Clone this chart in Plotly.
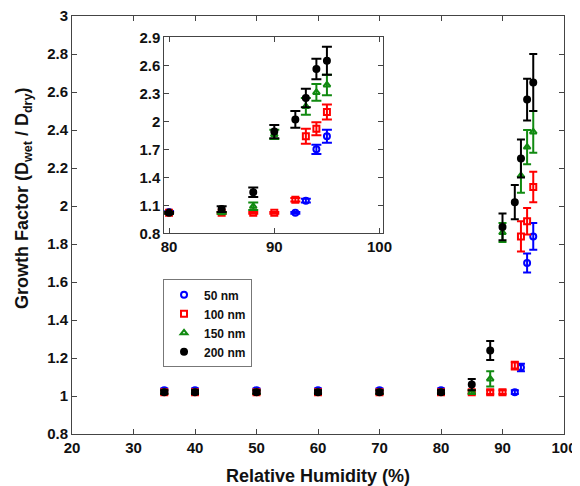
import plotly.graph_objects as go

# ---- data ----
series_names = ["50 nm", "100 nm", "150 nm", "200 nm"]

blue_rh = [35, 40, 50, 60, 70, 80, 92, 93, 94, 95]
blue_gf = [1.03, 1.03, 1.03, 1.03, 1.03, 1.03, 1.02, 1.15, 1.70, 1.84]
blue_err = [0.01, 0.01, 0.01, 0.01, 0.01, 0.01, 0.01, 0.02, 0.05, 0.07]

red_rh = [35, 40, 50, 60, 70, 80, 85, 88, 90, 92, 93, 94, 95]
red_gf = [1.02, 1.02, 1.02, 1.02, 1.02, 1.02, 1.02, 1.02, 1.02, 1.16, 1.84, 1.92, 2.10]
red_err = [0.01, 0.01, 0.01, 0.01, 0.01, 0.01, 0.01, 0.01, 0.01, 0.02, 0.08, 0.07, 0.08]

green_rh = [35, 40, 50, 60, 70, 80, 85, 88, 90, 93, 94, 95]
green_gf = [1.02, 1.02, 1.02, 1.02, 1.02, 1.02, 1.02, 1.09, 1.86, 2.16, 2.31, 2.39]
green_err = [0.01, 0.01, 0.01, 0.01, 0.01, 0.01, 0.01, 0.04, 0.05, 0.09, 0.09, 0.11]

black_rh = [35, 40, 50, 60, 70, 80, 85, 88, 90, 92, 93, 94, 95]
black_gf = [1.02, 1.02, 1.02, 1.02, 1.02, 1.02, 1.06, 1.24, 1.89, 2.02, 2.25, 2.56, 2.65]
black_err = [0.01, 0.01, 0.01, 0.01, 0.01, 0.01, 0.03, 0.05, 0.07, 0.09, 0.10, 0.11, 0.15]

main_xticks = [20, 30, 40, 50, 60, 70, 80, 90, 100]
main_yticks = [0.8, 1.0, 1.2, 1.4, 1.6, 1.8, 2.0, 2.2, 2.4, 2.6, 2.8, 3.0]
main_ytext = ["0.8", "1", "1.2", "1.4", "1.6", "1.8", "2", "2.2", "2.4", "2.6", "2.8", "3"]
inset_xticks = [80, 90, 100]
inset_yticks = [0.8, 1.1, 1.4, 1.7, 2.0, 2.3, 2.6, 2.9]
inset_ytext = ["0.8", "1.1", "1.4", "1.7", "2", "2.3", "2.6", "2.9"]

colors = ["#0000ff", "#ff0000", "#118a11", "#000000"]
symbols = ["circle-open", "square-open", "triangle-up-open", "circle"]
data = [
    (blue_rh, blue_gf, blue_err),
    (red_rh, red_gf, red_err),
    (green_rh, green_gf, green_err),
    (black_rh, black_gf, black_err),
]

FONT = "Liberation Sans, Arial, sans-serif"
fig = go.Figure()

for (rh, gf, err), name, col, sym in zip(data, series_names, colors, symbols):
    fig.add_trace(go.Scatter(
        x=rh, y=gf, mode="markers", name=name,
        marker=dict(symbol=sym, size=6, color=col, line=dict(color=col, width=2)),
        error_y=dict(type="data", array=err, color=col, thickness=2, width=4),
        xaxis="x", yaxis="y", showlegend=True,
    ))

for (rh, gf, err), name, col, sym in zip(data, series_names, colors, symbols):
    fig.add_trace(go.Scatter(
        x=rh, y=gf, mode="markers", name=name,
        marker=dict(symbol=sym, size=6, color=col, line=dict(color=col, width=2)),
        error_y=dict(type="data", array=err, color=col, thickness=2, width=5),
        xaxis="x2", yaxis="y2", showlegend=False,
    ))

axis_common = dict(
    showline=True, linecolor="#444444", linewidth=1, mirror="ticks",
    ticks="inside", ticklen=5, tickcolor="#444444", showgrid=False, zeroline=False,
    automargin=False, ticklabeloverflow="allow",
)

fig.update_layout(
    width=572, height=478,
    margin=dict(l=64, r=16, t=8, b=52),
    paper_bgcolor="white", plot_bgcolor="white",
    font=dict(family=FONT, color="#111111"),
    xaxis=dict(
        range=[20, 100], tickvals=main_xticks,
        tickfont=dict(size=15, weight="bold", family=FONT),
        title=dict(text="Relative Humidity (%)", font=dict(size=18, weight="bold", family=FONT), standoff=14),
        **axis_common,
    ),
    yaxis=dict(
        range=[0.8, 3.0], tickvals=main_yticks, ticktext=main_ytext,
        tickfont=dict(size=15, weight="bold", family=FONT),
        **axis_common,
    ),
    xaxis2=dict(
        domain=[0.1876, 0.6315], anchor="y2",
        range=[79.55, 100.3], tickvals=inset_xticks,
        tickfont=dict(size=15, weight="bold", family=FONT),
        **axis_common,
    ),
    yaxis2=dict(
        domain=[0.480, 0.949], anchor="x2",
        range=[0.8, 2.9], tickvals=inset_yticks, ticktext=inset_ytext,
        tickfont=dict(size=15, weight="bold", family=FONT),
        **axis_common,
    ),
    legend=dict(
        x=0.185, y=0.37, xanchor="left", yanchor="top",
        bgcolor="white", bordercolor="#777777", borderwidth=1,
        font=dict(size=12, weight="bold", family=FONT),
        itemwidth=30, tracegroupgap=0,
    ),
    annotations=[dict(
        text="Growth Factor (D<sub>wet</sub> / D<sub>dry</sub>)",
        xref="paper", yref="paper", x=-0.097, y=0.565,
        xanchor="center", yanchor="middle", textangle=-90, showarrow=False,
        font=dict(size=18, weight="bold", family=FONT, color="#111111"),
    )],
)

fig.write_html("out.html")
